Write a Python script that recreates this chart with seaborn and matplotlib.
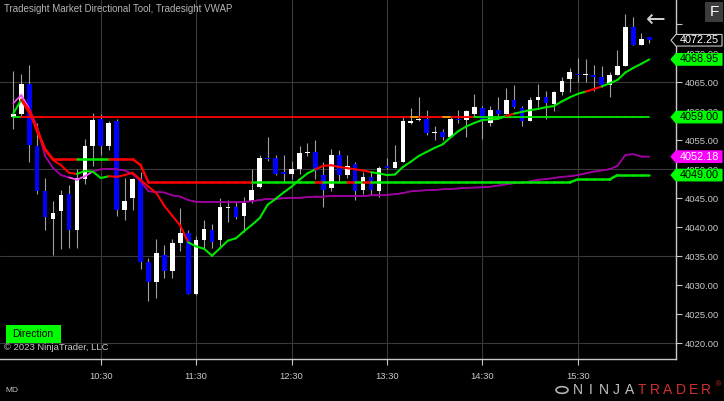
"""
Tradesight Market Directional Tool + VWAP on 5-minute candles (NinjaTrader look)
- candles drawn from OHLC lists
- directional line / stop line / level line coloured by state
- price tags on the right axis
"""

import numpy as np
import pandas as pd
import seaborn as sns
import matplotlib.pyplot as plt
from matplotlib.patches import Polygon, Rectangle, Circle
from matplotlib.transforms import blended_transform_factory

# -------------------------------
# Data (5-minute bars from 09:35)
# -------------------------------
opens = [4059.0, 4059.5, 4064.75, 4054.0, 4046.25, 4041.5, 4042.75, 4045.75, 4039.5, 4048.25,
         4054.0, 4058.75, 4054.0, 4058.25, 4043.0, 4045.0, 4048.25, 4034.0, 4030.5, 4035.25,
         4032.5, 4037.25, 4039.0, 4028.5, 4037.75, 4039.5, 4037.75, 4043.25, 4043.5, 4042.0,
         4044.5, 4047.0, 4052.0, 4052.0, 4049.5, 4049.25, 4050.0, 4052.75, 4053.0, 4049.0,
         4046.75, 4052.5, 4049.0, 4051.0, 4046.5, 4048.75, 4046.25, 4050.5, 4050.25, 4051.25,
         4058.0, 4058.5, 4058.75, 4056.25, 4056.5, 4055.5, 4058.75, 4058.5, 4059.5, 4060.5,
         4058.0, 4060.25, 4059.5, 4062.0, 4060.5, 4058.25, 4062.0, 4062.5, 4061.25, 4063.25,
         4065.5, 4066.5, 4066.25, 4066.25, 4066.0, 4064.5, 4066.25, 4067.75, 4074.5, 4071.5,
         4072.75]
highs = [4067.0, 4066.5, 4068.0, 4058.0, 4048.5, 4044.5, 4046.5, 4047.25, 4050.0, 4055.25,
         4059.75, 4059.5, 4058.25, 4058.75, 4048.5, 4048.5, 4049.5, 4034.75, 4038.0, 4037.0,
         4038.0, 4043.25, 4039.5, 4038.5, 4041.25, 4040.5, 4045.0, 4044.75, 4044.5, 4045.25,
         4050.0, 4052.5, 4055.5, 4052.5, 4052.5, 4051.5, 4054.0, 4054.5, 4055.0, 4051.25,
         4053.5, 4053.25, 4052.5, 4051.25, 4049.5, 4049.5, 4050.5, 4052.0, 4054.25, 4059.25,
         4060.5, 4062.5, 4060.25, 4057.5, 4057.0, 4059.25, 4060.25, 4060.25, 4063.0, 4061.0,
         4061.0, 4062.5, 4064.0, 4064.5, 4061.0, 4062.5, 4064.75, 4063.5, 4063.5, 4066.0,
         4067.5, 4069.25, 4069.0, 4068.0, 4067.75, 4066.75, 4070.5, 4076.75, 4076.25, 4073.5,
         4072.75]
lows = [4057.0, 4059.25, 4051.25, 4045.75, 4039.5, 4035.25, 4036.25, 4036.5, 4036.5, 4047.5,
        4050.5, 4052.5, 4053.25, 4042.0, 4041.25, 4043.0, 4032.75, 4027.25, 4027.75, 4031.25,
        4031.25, 4036.0, 4028.5, 4028.25, 4036.5, 4036.5, 4036.75, 4041.0, 4041.5, 4039.25,
        4044.25, 4046.75, 4051.5, 4049.0, 4048.0, 4048.25, 4049.25, 4052.25, 4048.25, 4043.5,
        4046.25, 4048.0, 4048.5, 4044.75, 4045.75, 4045.5, 4045.25, 4050.0, 4050.25, 4051.25,
        4057.75, 4058.25, 4056.0, 4055.0, 4055.0, 4055.5, 4058.0, 4055.5, 4059.0, 4055.25,
        4057.5, 4059.25, 4059.5, 4060.5, 4057.5, 4058.25, 4060.75, 4058.75, 4060.0, 4062.75,
        4063.25, 4065.0, 4065.0, 4063.5, 4064.25, 4062.5, 4066.25, 4067.75, 4071.5, 4071.5,
        4071.75]
closes = [4059.5, 4064.75, 4054.25, 4046.25, 4041.75, 4042.5, 4045.5, 4039.5, 4048.5, 4054.0,
          4058.5, 4054.0, 4058.0, 4043.0, 4044.5, 4048.25, 4034.0, 4030.5, 4035.5, 4032.5,
          4037.25, 4039.0, 4028.5, 4037.75, 4039.75, 4037.5, 4043.5, 4043.5, 4041.75, 4044.25,
          4046.5, 4052.0, 4051.75, 4049.25, 4049.25, 4050.0, 4052.75, 4053.0, 4049.75, 4046.5,
          4052.5, 4049.0, 4050.5, 4046.25, 4048.75, 4046.5, 4050.25, 4050.25, 4051.25, 4058.25,
          4058.25, 4058.75, 4056.25, 4056.5, 4055.5, 4058.75, 4058.5, 4060.0, 4060.75, 4058.25,
          4060.25, 4059.5, 4062.0, 4060.75, 4058.25, 4062.0, 4062.5, 4061.5, 4063.25, 4065.25,
          4066.75, 4066.25, 4066.5, 4066.0, 4064.5, 4066.25, 4067.75, 4074.5, 4071.5, 4072.5,
          4072.25]

# directional line (colored by state) and its state runs
dir_line = [4059.6, 4062.0, 4059.7, 4057.1, 4053.3, 4051.6, 4050.7, 4049.4, 4049.2, 4049.7,
            4049.6, 4048.5, 4048.8, 4048.7, 4049.0, 4049.4, 4048.2, 4047.0, 4045.9, 4043.7,
            4042.0, 4040.3, 4037.4, 4036.7, 4036.3, 4035.1, 4036.4, 4037.7, 4038.1, 4039.3,
            4040.4, 4041.6, 4043.9, 4044.9, 4046.0, 4047.0, 4048.2, 4049.3, 4050.0, 4050.6,
            4050.7, 4050.4, 4050.2, 4050.0, 4049.8, 4049.5, 4049.3, 4049.0, 4049.1, 4050.4,
            4051.3, 4052.3, 4053.0, 4053.7, 4054.3, 4055.5, 4056.6, 4057.4, 4058.0, 4058.5,
            4058.6, 4058.7, 4059.2, 4059.6, 4059.9, 4060.2, 4060.4, 4060.7, 4060.9, 4061.7,
            4062.4, 4063.0, 4063.4, 4063.8, 4064.3, 4064.8, 4065.4, 4066.7, 4067.5, 4068.2,
            4068.95]
dir_runs = [("g", 2), ("r", 7), ("g", 4), ("r", 10), ("g", 16), ("r", 7), ("g", 17),
            ("r", 1), ("g", 9), ("r", 2), ("g", 6)]

# stop line (step values)
stop_line = ([np.nan, 4062.0, 4060.25, 4056.5, 4053.5] + [4051.75] * 11 + [4050.75]
             + [4047.75] * 54 + [4048.25] * 5 + [4049.0] * 5)
stop_runs = [("r", 9), ("g", 4), ("r", 18), ("g", 8), ("r", 1), ("g", 3), ("r", 1),
             ("g", 1), ("r", 1), ("g", 35)]

# horizontal level
level_value = 4059.0
level_runs = [("g", 2), ("r", 49), ("o", 1), ("r", 3), ("o", 1), ("r", 3), ("g", 22)]

# VWAP
vwap = [4061.4, 4062.8, 4060.5, 4057.3, 4052.3, 4050.2, 4049.0, 4048.6, 4048.2, 4048.8,
        4049.6, 4050.0, 4050.1, 4050.0, 4049.8, 4049.2, 4048.0, 4046.2, 4046.1, 4046.0,
        4045.5, 4045.3, 4044.7, 4044.4, 4044.4, 4044.4, 4044.4, 4044.3, 4044.3, 4044.4,
        4044.5, 4044.7, 4044.9, 4044.9, 4045.0, 4045.1, 4045.1, 4045.2, 4045.3, 4045.3,
        4045.4, 4045.4, 4045.4, 4045.4, 4045.4, 4045.5, 4045.5, 4045.6, 4045.7, 4045.9,
        4046.2, 4046.3, 4046.4, 4046.45, 4046.55, 4046.6, 4046.7, 4046.8, 4046.85, 4046.9,
        4047.0, 4047.2, 4047.4, 4047.6, 4047.7, 4047.9, 4048.2, 4048.3, 4048.5, 4048.7,
        4048.8, 4049.0, 4049.3, 4049.6, 4049.8, 4050.0, 4050.6, 4052.5, 4052.6, 4052.2,
        4052.18]
vwap_runs = [("p", 3), ("v", 5), ("p", 3), ("v", 70)]

time_labels = ["10:30", "11:30", "12:30", "13:30", "14:30", "15:30"]
price_ticks = list(range(4020, 4080, 5))

# -------------------------------
# Style
# -------------------------------
sns.set_theme(style="dark", rc={
    "figure.facecolor": "black", "axes.facecolor": "black",
    "axes.edgecolor": "#c8c8c8", "text.color": "#c8c8c8",
    "xtick.color": "#c8c8c8", "ytick.color": "#c8c8c8",
    "axes.grid": False,
})
plt.rcParams["font.family"] = ["Liberation Sans", "DejaVu Sans"]

W, H = 724, 401
fig = plt.figure(figsize=(W / 100, H / 100), dpi=100)
ax = fig.add_axes([0, 42 / H, 676 / W, 359 / H])

n = len(closes)
df = pd.DataFrame({"bar": np.arange(n), "open": opens, "high": highs,
                   "low": lows, "close": closes})
bars = df["bar"].to_numpy()


def expand(runs):
    out = []
    for s, k in runs:
        out += [s] * k
    return out


palette = {"g": "#00e600", "r": "#ff0000", "o": "#ffa500",
           "v": "#a000a0", "p": "#ff55ff"}


def colored_line(y, runs, lw, z=4):
    y = np.asarray(y, dtype=float)
    states = expand(runs)
    for i in range(1, n):
        if np.isnan(y[i - 1]) or np.isnan(y[i]):
            continue
        ax.plot(bars[i - 1:i + 1], y[i - 1:i + 1], color=palette[states[i]],
                lw=lw, solid_capstyle="round", zorder=z)


# grid
for v in [4020, 4035, 4050, 4065]:
    ax.axhline(v, color="#3a3a3a", lw=0.8, zorder=0)
bar_of = lambda t: (int(t[:2]) * 60 + int(t[3:]) - (9 * 60 + 35)) // 5
time_bars = [bar_of(t) for t in time_labels]
for b in time_bars:
    ax.axvline(b, color="#3a3a3a", lw=0.8, zorder=0)

# candles
up = df["close"] >= df["open"]
ax.vlines(df["bar"], df["low"], df["high"], color="#a0a0a0", lw=0.8, zorder=2)
body = (df["close"] - df["open"]).abs().clip(lower=0.2)
bottom = df[["open", "close"]].min(axis=1)
ax.bar(df["bar"], body, bottom=bottom, width=0.58,
       color=np.where(up, "white", "#0000ff"), linewidth=0, zorder=3)

# indicators
sns.lineplot(x=bars, y=vwap, color=palette["v"], lw=1.1, ax=ax, zorder=4)
colored_line(vwap, vwap_runs, 1.1)
colored_line([level_value] * n, level_runs, 1.3)
colored_line(stop_line, stop_runs, 1.8, z=5)
colored_line(dir_line, dir_runs, 1.5, z=6)

# axes
ax.set_xlim(-13.3 / 7.95, (676 - 13.3) / 7.95)
ax.set_ylim(4065 - (359 - 82.3) / 5.8, 4065 + 82.3 / 5.8)
for s in ["top", "left"]:
    ax.spines[s].set_visible(False)
for s in ["bottom", "right"]:
    ax.spines[s].set_color("#c8c8c8")
    ax.spines[s].set_linewidth(1.0)

ax.yaxis.tick_right()
ax.set_yticks(price_ticks)
ax.set_yticklabels([f"{v:.2f}" if v < 4075 else "" for v in price_ticks])
ax.tick_params(axis="y", length=4, width=0.8, pad=2, labelsize=6.8,
               colors="#c8c8c8", right=True)
ax.set_xticks(time_bars)
ax.set_xticklabels(time_labels)
ax.tick_params(axis="x", length=4, width=0.8, pad=5.5, labelsize=6.8,
               colors="#c8c8c8", bottom=True)
ax.set_xlabel("")
ax.set_ylabel("")

# price tags on the right
blend = blended_transform_factory(fig.transFigure, ax.transData)
tags = [
    (closes[-1], "black", "white", "#c8c8c8"),
    (dir_line[-1], "#00ff00", "black", "#00ff00"),
    (level_value, "#00ff00", "black", "#00ff00"),
    (vwap[-1], "#ff00ff", "white", "#ff00ff"),
    (stop_line[-1], "#00ff00", "black", "#00ff00"),
]
hh = 5.8 / 5.8
for val, face, tcol, edge in tags:
    pts = [(671 / W, val), (676 / W, val + hh), (722 / W, val + hh),
           (722 / W, val - hh), (676 / W, val - hh)]
    ax.add_patch(Polygon(pts, closed=True, transform=blend, facecolor=face,
                         edgecolor=edge, lw=0.8, clip_on=False, zorder=10))
    ax.text(699 / W, val, f"{val:.2f}", transform=blend, ha="center",
            va="center", color=tcol, fontsize=7.8, clip_on=False, zorder=11)

# overlay texts
fig.text(4 / W, 1 - 9 / H, "Tradesight Market Directional Tool, Tradesight VWAP",
         fontsize=7, color="#b4b4b4", va="center", ha="left")
fig.patches.append(Rectangle((5.5 / W, 1 - 343 / H), 55.5 / W, 18 / H,
                             transform=fig.transFigure, facecolor="#00ff00",
                             edgecolor="none"))
fig.text(33 / W, 1 - 334 / H, "Direction", fontsize=7.5, color="black",
         ha="center", va="center")
fig.text(4 / W, 1 - 348 / H, "\u00a9 2023 NinjaTrader, LLC", fontsize=6.8,
         color="#c8c8c8", va="center", ha="left")
fig.text(5 / W, 1 - 390 / H, "MD", fontsize=6, color="#c8c8c8", va="center")

fig.patches.append(Rectangle((705 / W, 1 - 22 / H), 18 / W, 20 / H,
                             transform=fig.transFigure, facecolor="#3c3c3c",
                             edgecolor="none"))
fig.text(714 / W, 1 - 12 / H, "F", fontsize=11, color="white",
         ha="center", va="center")
fig.text(656 / W, 1 - 20 / H, "\u2190", fontsize=17, color="#d0d0d0",
         ha="center", va="center", family="DejaVu Sans")

# logo
fig.patches.append(Circle((562 / W, 1 - 390 / H), 6 / W, transform=fig.transFigure,
                          facecolor="none", edgecolor="#b0b0b0", lw=1.2))
for k, ch in enumerate("NINJATRADER"):
    fig.text((578 + k * 12.8) / W, 1 - 390 / H, ch, fontsize=10,
             color="#c0c0c0" if k < 5 else "#d03030", ha="center", va="center")
fig.text(718 / W, 1 - 385 / H, "\u00ae", fontsize=5, color="#d03030",
         ha="center", va="center")

fig.savefig("out.png", dpi=100, facecolor="black")
plt.close(fig)
